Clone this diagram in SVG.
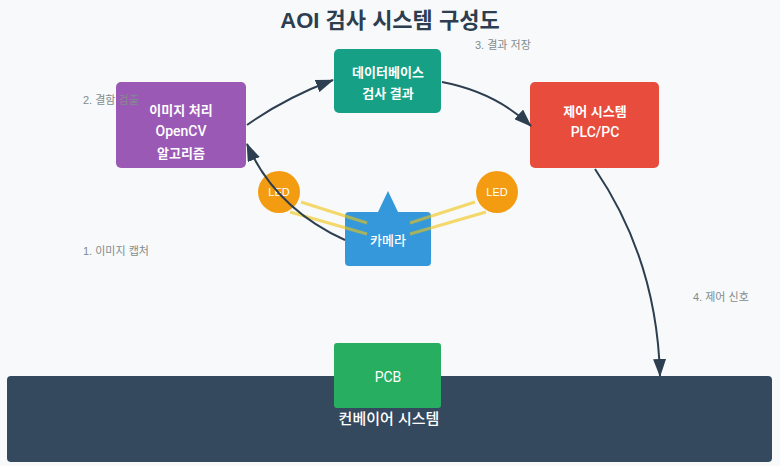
<svg xmlns="http://www.w3.org/2000/svg" width="780" height="466" viewBox="0 0 780 466">
<style>
.t{font-family:"Liberation Sans","Noto Sans CJK KR",sans-serif;fill:#fff;text-anchor:middle;font-size:13px;font-weight:600}
.lat{font-family:Roboto,sans-serif;font-weight:500;font-size:14px}
.lbl{font-family:"Liberation Sans","Noto Sans CJK KR",sans-serif;fill:#7f8c8d;font-size:11px}
.conn{fill:none;stroke:#2c3e50;stroke-width:2}
.light{stroke:#f1c40f;stroke-width:3;opacity:0.6}
</style>
<defs>
<marker id="arr" viewBox="0 0 18 13" refX="17" refY="6.5" markerWidth="18" markerHeight="13" markerUnits="userSpaceOnUse" orient="auto">
<path d="M0,0 L18,6.5 L0,13 Z" fill="#2c3e50"/>
</marker>
</defs>
<rect width="780" height="466" fill="#f8f9fa"/>
<text x="390" y="28" text-anchor="middle" style="font-family:'Liberation Sans','Noto Sans CJK KR',sans-serif;font-size:22px;font-weight:700;fill:#2c3e50">AOI 검사 시스템 구성도</text>

<g id="conveyor">
<rect x="7" y="376" width="765" height="86" rx="4" fill="#34495e"/>
<text class="t" x="389" y="424" style="font-size:15px;font-weight:500">컨베이어 시스템</text>
</g>
<g id="pcb">
<rect x="334" y="343" width="107" height="65" rx="3" fill="#27ae60"/>
<text class="t lat" x="388" y="382" style="font-weight:400">PCB</text>
</g>
<g id="image-processing">
<rect x="116" y="82" width="130" height="86" rx="5" fill="#9b59b6"/>
<text class="t" x="181" y="115">이미지 처리</text>
<text class="t lat" x="181" y="136">OpenCV</text>
<text class="t" x="181" y="158">알고리즘</text>
</g>
<g id="database">
<rect x="334" y="49" width="107" height="64" rx="5" fill="#16a085"/>
<text class="t" x="388" y="77">데이터베이스</text>
<text class="t" x="388" y="98">검사 결과</text>
</g>
<g id="control">
<rect x="530" y="82" width="129" height="86" rx="5" fill="#e74c3c"/>
<text class="t" x="595" y="116">제어 시스템</text>
<text class="t lat" x="595" y="137">PLC/PC</text>
</g>
<g id="led-left">
<circle cx="279" cy="192" r="21" fill="#f39c12"/>
<text class="t" x="279" y="196" style="font-size:11px;font-weight:400">LED</text>
</g>
<g id="led-right">
<circle cx="497" cy="192" r="21" fill="#f39c12"/>
<text class="t" x="497" y="196" style="font-size:11px;font-weight:400">LED</text>
</g>
<g id="camera">
<polygon points="388,191 378,212 398,212" fill="#3498db"/>
<rect x="345" y="212" width="86" height="54" rx="4" fill="#3498db"/>
<text class="t" x="388" y="245" style="font-weight:500">카메라</text>
</g>
<g id="lights">
<line class="light" x1="301" y1="202" x2="367" y2="223"/>
<line class="light" x1="290" y1="212" x2="367" y2="234"/>
<line class="light" x1="475" y1="202" x2="410" y2="223"/>
<line class="light" x1="486" y1="212" x2="410" y2="234"/>
</g>

<g id="connectors">
<path class="conn" d="M345,240 Q275,208 247,144" marker-end="url(#arr)"/>
<path class="conn" d="M247,125 Q285,98 333,80" marker-end="url(#arr)"/>
<path class="conn" d="M442,82 Q495,92 531,126" marker-end="url(#arr)"/>
<path class="conn" d="M595,169 Q657,260 660,376" marker-end="url(#arr)"/>
</g>
<g id="labels">
<text class="lbl" x="83" y="255">1. 이미지 캡처</text>
<text class="lbl" x="83" y="104">2. 결함 검출</text>
<text class="lbl" x="475" y="49">3. 결과 저장</text>
<text class="lbl" x="693" y="301">4. 제어 신호</text>
</g>
</svg>
